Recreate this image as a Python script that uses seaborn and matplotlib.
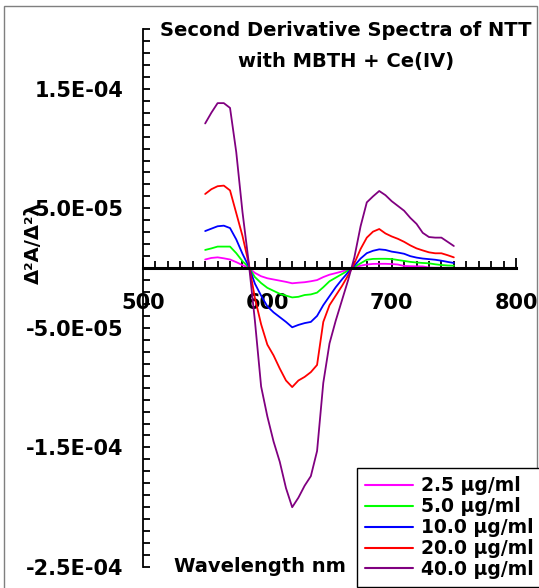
import numpy as np
import pandas as pd
import matplotlib
matplotlib.use('Agg')
import matplotlib.pyplot as plt
import seaborn as sns
from matplotlib.patches import Rectangle
from matplotlib.ticker import FixedLocator, FixedFormatter

# wavelengths (nm)
WAVELENGTH = [550, 555, 560, 565, 570, 575, 580, 585, 590, 595,
              600, 605, 610, 615, 620, 625, 630, 635, 640, 645,
              650, 655, 660, 665, 670, 675, 680, 685, 690, 695,
              700, 705, 710, 715, 720, 725, 730, 735, 740, 745, 750]

# second derivative values, in units of 1E-05
D2_2_5 = [0.72, 0.85, 0.90, 0.82, 0.72, 0.50, 0.25, 0.03, -0.40, -0.68,
          -0.85, -0.95, -1.05, -1.15, -1.27, -1.22, -1.18, -1.10, -1.00, -0.75,
          -0.55, -0.42, -0.28, -0.12, 0.05, 0.20, 0.30, 0.35, 0.36, 0.36,
          0.34, 0.30, 0.18, 0.16, 0.15, 0.14, 0.05, 0.03, 0.03, 0.03, 0.03]
D2_5_0 = [1.52, 1.65, 1.80, 1.80, 1.80, 1.25, 0.58, 0.08, -0.75, -1.25,
          -1.65, -1.90, -2.15, -2.30, -2.45, -2.40, -2.25, -2.20, -2.05, -1.60,
          -1.10, -0.80, -0.50, -0.20, 0.10, 0.40, 0.70, 0.77, 0.78, 0.78,
          0.76, 0.68, 0.60, 0.52, 0.47, 0.43, 0.40, 0.32, 0.26, 0.22, 0.20]
D2_10 = [3.10, 3.30, 3.50, 3.55, 3.35, 2.40, 1.20, 0.15, -1.30, -2.30,
         -3.20, -3.70, -4.10, -4.50, -4.95, -4.75, -4.60, -4.50, -4.00, -3.10,
         -2.35, -1.60, -0.95, -0.35, 0.20, 0.80, 1.25, 1.45, 1.57, 1.52,
         1.38, 1.30, 1.20, 1.00, 0.88, 0.80, 0.75, 0.70, 0.62, 0.52, 0.43]
D2_20 = [6.20, 6.60, 6.85, 6.90, 6.50, 4.60, 2.70, 0.40, -2.50, -4.70,
         -6.40, -7.30, -8.40, -9.40, -9.95, -9.40, -9.10, -8.70, -8.10, -4.50,
         -3.10, -2.30, -1.50, -0.60, 0.40, 1.60, 2.55, 3.05, 3.27, 2.90,
         2.65, 2.45, 2.20, 1.90, 1.65, 1.48, 1.32, 1.24, 1.24, 1.08, 0.90]
D2_40 = [12.1, 13.0, 13.8, 13.8, 13.4, 9.7, 4.7, 0.5, -4.4, -9.9,
         -12.4, -14.5, -16.2, -18.4, -20.0, -19.2, -18.2, -17.4, -15.3, -9.6,
         -6.3, -4.4, -2.7, -1.0, 0.9, 3.5, 5.5, 6.0, 6.45, 6.1,
         5.6, 5.2, 4.8, 4.2, 3.7, 2.95, 2.6, 2.55, 2.55, 2.2, 1.85]

SERIES_LABELS = ['2.5 µg/ml', '5.0 µg/ml', '10.0 µg/ml', '20.0 µg/ml', '40.0 µg/ml']
SERIES_COLORS = ['#FF00FF', '#00FF00', '#0000FF', '#FF0000', '#800080']

Y_TICKS = [-2.5e-4, -1.5e-4, -0.5e-4, 0.5e-4, 1.5e-4]
Y_TICK_LABELS = ['-2.5E-04', '-1.5E-04', '-5.0E-05', '5.0E-05', '1.5E-04']
X_TICKS = [500, 600, 700, 800]
X_TICK_LABELS = ['500', '600', '700', '800']

sns.set_theme(style="white")
plt.rcParams['font.family'] = ['DejaVu Sans']
plt.rcParams['font.weight'] = 'bold'
plt.rcParams['text.color'] = 'black'
plt.rcParams['axes.labelcolor'] = 'black'
plt.rcParams['xtick.color'] = 'black'
plt.rcParams['ytick.color'] = 'black'

frames = []
for lab, vals in zip(SERIES_LABELS, [D2_2_5, D2_5_0, D2_10, D2_20, D2_40]):
    frames.append(pd.DataFrame({'wl': WAVELENGTH,
                                'd2': np.array(vals) * 1e-5,
                                'conc': lab}))
df = pd.concat(frames, ignore_index=True)

W, H = 539, 588
fig = plt.figure(figsize=(W / 100, H / 100), dpi=100)
fig.patch.set_facecolor('white')
ax = fig.add_axes([143 / W, 21 / H, 373 / W, 538 / H])

sns.lineplot(data=df, x='wl', y='d2', hue='conc', hue_order=SERIES_LABELS,
             palette=dict(zip(SERIES_LABELS, SERIES_COLORS)),
             linewidth=1.3, ax=ax, legend=False, sort=True)

ax.set_xlim(500, 800)
ax.set_ylim(-2.5e-4, 2.0e-4)
ax.set_xlabel('')
ax.set_ylabel('')
ax.set_facecolor('white')
ax.grid(False)

for s in ['top', 'right']:
    ax.spines[s].set_visible(False)
ax.spines['bottom'].set_position(('data', 0))
ax.spines['bottom'].set_linewidth(2.2)
ax.spines['left'].set_linewidth(1.3)
ax.spines['bottom'].set_color('black')
ax.spines['left'].set_color('black')

ax.xaxis.set_major_locator(FixedLocator(X_TICKS))
ax.xaxis.set_major_formatter(FixedFormatter(X_TICK_LABELS))
ax.xaxis.set_minor_locator(FixedLocator(list(range(500, 801, 10))))
ax.yaxis.set_major_locator(FixedLocator(Y_TICKS))
ax.yaxis.set_major_formatter(FixedFormatter(Y_TICK_LABELS))
ax.yaxis.set_minor_locator(FixedLocator([i * 1e-5 for i in range(-25, 21)]))

ax.tick_params(axis='x', which='major', direction='in', length=7, width=1.3,
               pad=18, labelsize=15, colors='black', bottom=True)
ax.tick_params(axis='x', which='minor', direction='in', length=5, width=1.3,
               bottom=True, colors='black')
ax.tick_params(axis='y', which='major', direction='in', length=5, width=1.3,
               pad=14, labelsize=15, colors='black', left=True)
ax.tick_params(axis='y', which='minor', direction='in', length=5, width=1.3,
               left=True, colors='black')
for t in ax.get_xticklabels() + ax.get_yticklabels():
    t.set_fontweight('bold')

# titles and axis labels
fig.text(346 / W, 1 - 30 / H, 'Second Derivative Spectra of NTT',
         ha='center', va='center', fontsize=14, fontweight='bold', color='black')
fig.text(346 / W, 1 - 62 / H, 'with MBTH + Ce(IV)',
         ha='center', va='center', fontsize=14, fontweight='bold', color='black')
fig.text(260 / W, 1 - 566 / H, 'Wavelength nm',
         ha='center', va='center', fontsize=14, fontweight='bold', color='black')
fig.text(33 / W, 1 - 243 / H, 'Δ²A/Δ²λ', rotation=90,
         ha='center', va='center', fontsize=14, fontweight='bold', color='black')

# legend
handles = [plt.Line2D([], [], color=c, linewidth=1.5) for c in SERIES_COLORS]
leg = fig.legend(handles, SERIES_LABELS, loc='upper left',
                 bbox_to_anchor=(357 / W, 1 - 468 / H),
                 bbox_transform=fig.transFigure,
                 prop={'weight': 'bold', 'size': 13.5},
                 frameon=True, fancybox=False, framealpha=1,
                 edgecolor='black', borderpad=0.45, labelspacing=0.1,
                 handlelength=2.55, handletextpad=0.4, borderaxespad=0)
leg.get_frame().set_linewidth(1.0)
for t in leg.get_texts():
    t.set_color('black')

# outer chart border
fig.patches.append(Rectangle((4 / W, -0.01), 533 / W, 1 - 6 / H + 0.01,
                             transform=fig.transFigure, fill=False,
                             edgecolor='#7f7f7f', linewidth=1.0))

fig.savefig('out.png', dpi=100)
